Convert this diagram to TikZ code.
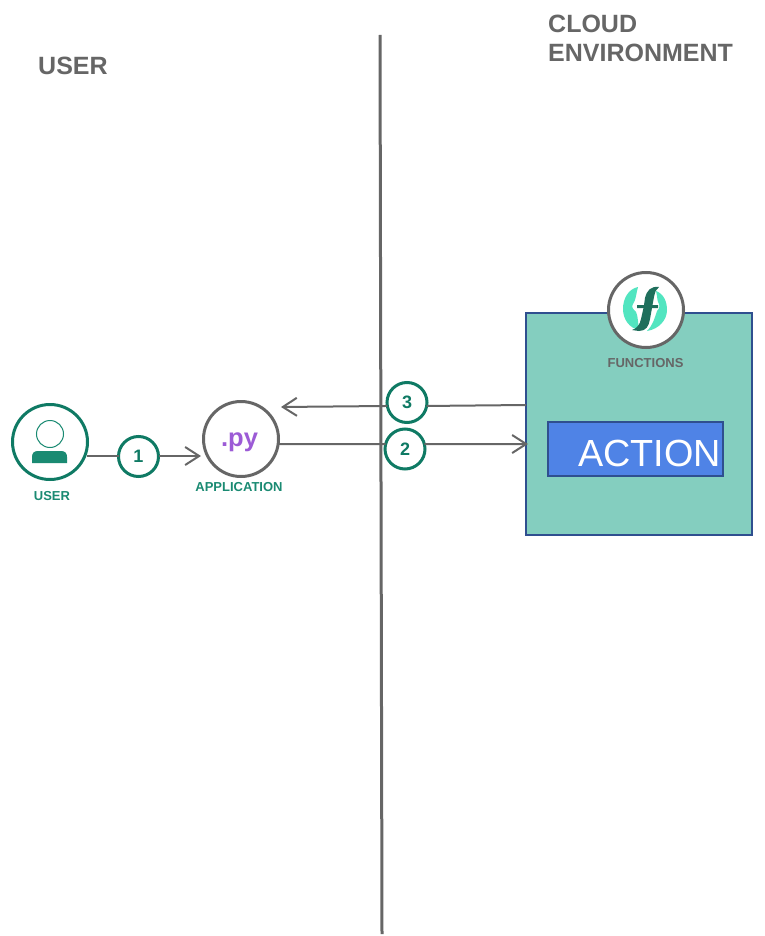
\documentclass[tikz,border=0pt]{standalone}
\usepackage{fontspec}
\setmainfont{Liberation Sans}
\usepackage{tikz}
\usetikzlibrary{arrows.meta}

\definecolor{linegray}{HTML}{666666}
\definecolor{badgegreen}{HTML}{0F7A64}
\definecolor{usergreen}{HTML}{1A8A72}
\definecolor{boxteal}{HTML}{84CEBF}
\definecolor{boxblue}{HTML}{2F4F8F}
\definecolor{actionblue}{HTML}{4F83E6}
\definecolor{pypurple}{HTML}{9C5BD6}
\definecolor{logomint}{HTML}{52E5C0}
\definecolor{logodark}{HTML}{1F6F5C}

\tikzset{
  title/.style={font=\fontsize{25}{29}\selectfont\bfseries,text=linegray,align=left,anchor=west,inner sep=0pt},
  caption/.style={font=\fontsize{13}{15}\selectfont\bfseries,inner sep=0pt},
  badge/.style={circle,draw=badgegreen,line width=3pt,fill=white,minimum size=40pt,inner sep=0pt,outer sep=0pt,font=\fontsize{18}{20}\selectfont\bfseries,text=badgegreen},
  icon/.style={circle,line width=3pt,fill=white,minimum size=75pt,inner sep=0pt,outer sep=0pt},
  flow/.style={draw=linegray,line width=2pt},
  tip/.style={-{Straight Barb[length=14pt,width=18pt,line width=2pt]}}
}

\begin{document}
\begin{tikzpicture}[x=1pt,y=-1pt]
\useasboundingbox (0,0) rectangle (764,936);

% Divider between the two sides
\coordinate (dividertop) at (380,35);
\coordinate (dividerbottom) at (382,934);
\draw[linegray,line width=3pt] (dividertop) -- (dividerbottom);

% Side titles
\node[title] (usertitle) at (38,66) {USER};
\node[title] (cloudtitle) at (548,38.5) {CLOUD\\ENVIRONMENT};

% Functions box
\node[draw=boxblue,line width=2pt,fill=boxteal,minimum width=226pt,minimum height=222pt,inner sep=0pt,outer sep=0pt] (functionsbox) at (639,424) {};
\node[draw=boxblue,line width=1.5pt,fill=actionblue,minimum width=175pt,minimum height=54pt,inner sep=0pt,outer sep=0pt] (actionbox) at (635.5,449) {};
\node[text=white,font=\fontsize{37.8}{40}\selectfont,inner sep=0pt,anchor=base west] (actionlabel) at (578,466) {ACTION};

% Icons
\node[icon,draw=badgegreen] (user) at (50,442) {};
\node[caption,text=usergreen] (userlabel) at (52,496) {USER};
\node[icon,draw=linegray] (app) at (241,439) {};
\node[text=pypurple,font=\fontsize{25.5}{28}\selectfont\bfseries,inner sep=0pt] (pylabel) at (239.5,442) {.py};
\node[caption,text=usergreen] (applabel) at (239,487) {APPLICATION};
\node[icon,draw=linegray] (functions) at (646,310) {};
\node[caption,text=linegray] (functionslabel) at (645.5,363) {FUNCTIONS};

% User glyph
\draw[usergreen,line width=1pt] (50,434) circle (13.5);
\fill[usergreen] (32,463) -- (32,457) .. controls (32,453) and (34,451) .. (38,451) -- (61,451) .. controls (65,451) and (67,453) .. (67,457) -- (67,463) -- cycle;

% Functions glyph
\fill[logomint] (638,287) .. controls (628,289) and (623,299) .. (623,309) .. controls (623,319) and (629,328) .. (639,330) .. controls (638,323) and (638,316) .. (636,312) .. controls (633,309) and (631,307) .. (633,304) .. controls (636,300) and (636,294) .. (638,287) -- cycle;
\fill[logomint] (656,291) .. controls (664,294) and (667,302) .. (667,310) .. controls (667,320) and (659,329) .. (647,331) .. controls (653,325) and (655,317) .. (657,311) .. controls (660,308) and (660,305) .. (658,302) .. controls (657,298) and (657,295) .. (656,291) -- cycle;
\fill[logodark] (659,287) .. controls (651,286) and (647,290) .. (645,298) -- (644,305) -- (637,305) -- (637,308) -- (643.5,308) -- (641,319) .. controls (640,325) and (636,329) .. (632,330) -- (639,331) .. controls (646,331) and (649,326) .. (650,319) -- (652,308) -- (658,308) -- (658,305) -- (652.5,305) -- (654,297) .. controls (655,292) and (656,289) .. (659,287) -- cycle;

% Step badges
\node[badge] (one) at (138.5,456.5) {1};
\node[badge] (two) at (405,449) {2};
\node[badge] (three) at (407,402.5) {3};

% Connectors
\coordinate (flowonestart) at (87,456);
\coordinate (flowoneend) at (201,456);
\coordinate (flowtwoend) at (528,444);
\coordinate (flowthreestart) at (526,405);
\coordinate (flowthreeend) at (281,407);
\draw[flow] (flowonestart) -- (one.west |- flowonestart);
\draw[flow,tip] (one.east |- flowoneend) -- (flowoneend);
\draw[flow] (app.-8) -- (two.166);
\draw[flow,tip] (two.14) -- (flowtwoend);
\draw[flow] (flowthreestart) -- (three.-10);
\draw[flow,tip] (three.190) -- (flowthreeend);

\end{tikzpicture}
\end{document}
